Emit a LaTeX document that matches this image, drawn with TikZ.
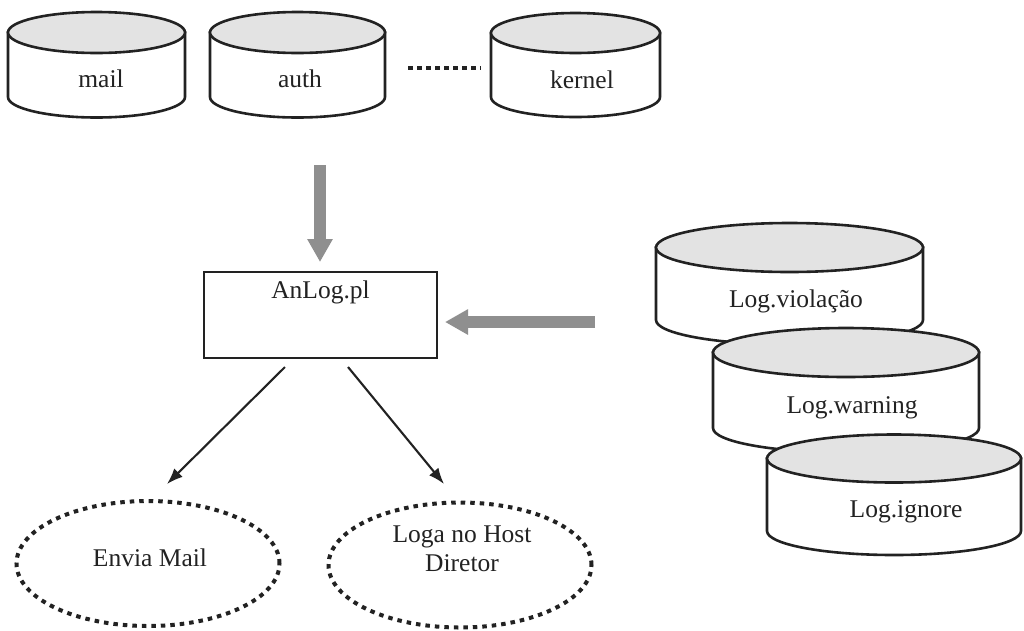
\documentclass[tikz,border=0pt]{standalone}
\usepackage{fontspec}
\setmainfont{Liberation Serif}
\usetikzlibrary{arrows.meta,shapes.geometric}

\definecolor{capgray}{HTML}{E3E3E3}
\definecolor{fatgray}{HTML}{8F8F8F}
\definecolor{ink}{HTML}{222222}

% disk: centre x, y of top cap centre, y of bottom cap centre, x radius, y radius
\newcommand\dbdisk[5]{%
  \filldraw[cylline, fill=white] (#1-#4,#2) -- (#1-#4,#3)
    arc[start angle=180, end angle=360, x radius=#4pt, y radius=#5pt]
    -- (#1+#4,#2) -- cycle;
  \filldraw[cylline, fill=capgray] (#1,#2) ellipse[x radius=#4pt, y radius=#5pt];
}

\begin{document}
\begin{tikzpicture}[x=1pt, y=-1pt,
  cylline/.style={draw=ink, line width=2.6pt},
  lbl/.style={font=\fontsize{25.5}{29}\selectfont, text=ink, inner sep=0pt, anchor=base},
  procbox/.style={draw=ink, line width=2.2pt, font=\fontsize{25.5}{29}\selectfont, text=ink,
    anchor=base, minimum width=233pt, text height=17pt, text depth=51pt, inner ysep=9pt},
  dotoval/.style={ellipse, draw=ink, line width=4pt, dash pattern=on 4.5pt off 5pt,
    minimum width=263pt, minimum height=125pt, inner sep=0pt},
  fatarrow/.style={draw=fatgray, line width=12pt,
    -{Triangle[width=24pt, length=23pt]}},
  thinarrow/.style={draw=ink, line width=2.1pt, -{Latex[length=16pt, width=12pt]}}]

\fill[white] (0,0) rectangle (1024,630);
\useasboundingbox (0,0) rectangle (1024,630);

% log sources along the top
\dbdisk{96.5}{32.5}{97}{88.5}{20.5}
\dbdisk{297.5}{32.5}{97}{87.5}{20.5}
\dbdisk{575.5}{33}{97}{84.5}{20}
\node[lbl] (mail) at (101,87) {mail};
\node[lbl] (auth) at (300,87) {auth};
\node[lbl] (kernel) at (582,88) {kernel};
\coordinate (dotsl) at (408,68);
\coordinate (dotsr) at (481,68);
\draw[ink, line width=4.5pt, dash pattern=on 5pt off 4pt] (dotsl) -- (dotsr);

% analyser
\node[procbox] (anlog) at (320.5,298) {AnLog.pl};

% stacked rule files
\dbdisk{789.5}{247.5}{320}{133.5}{24.5}
\node[lbl] (viol) at (796,307) {Log.violação};
\dbdisk{846}{352.5}{428}{133}{24.5}
\node[lbl] (warn) at (852,413) {Log.warning};
\dbdisk{894}{458.5}{531}{127}{24}
\node[lbl] (ign) at (906,517) {Log.ignore};

% wide grey arrows
\coordinate (intop) at (320,165);
\coordinate (intip) at (320,262);
\coordinate (rultail) at (595,322);
\coordinate (rultip) at (445,322);
\draw[fatarrow] (intop) -- (intip);
\draw[fatarrow] (rultail) -- (rultip);

% actions
\node[dotoval] (envia) at (148,563.5) {};
\node[lbl] (enviatext) at (150,566) {Envia Mail};
\node[dotoval] (loga) at (460,565) {};
\node[lbl, anchor=center, align=center] (logatext) at (462,548.5) {Loga no Host\\Diretor};

\coordinate (outl) at (285,367);
\coordinate (outr) at (348,367);
\coordinate (tipl) at (167,484);
\coordinate (tipr) at (444,484);
\draw[thinarrow] (outl) -- (tipl);
\draw[thinarrow] (outr) -- (tipr);
\end{tikzpicture}
\end{document}
